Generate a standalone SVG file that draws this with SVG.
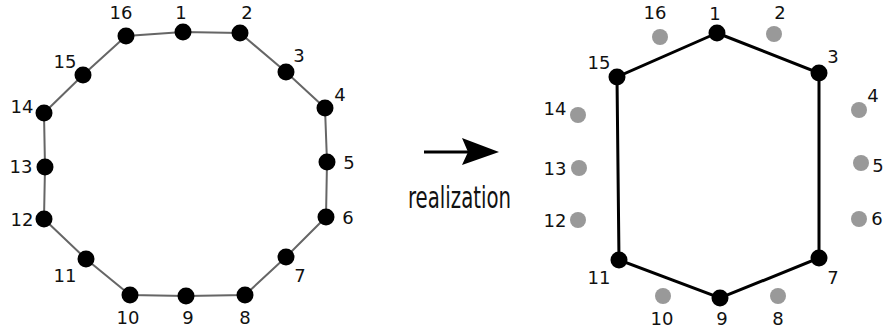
<svg xmlns="http://www.w3.org/2000/svg" width="885" height="331" viewBox="0 0 885 331">
<style>
.lab{font-family:"DejaVu Sans","Liberation Sans",sans-serif;font-size:18px;fill:#111;text-anchor:middle}
.n{fill:#000}
.g{fill:#999}
.e1{stroke:#666;stroke-width:2;fill:none}
.e2{stroke:#000;stroke-width:3;fill:none}
</style>
<rect width="885" height="331" fill="#fff"/>
<g id="connectors">
<polygon class="e1" points="183,32 240,33 286,72 325,108 327,162 326,217 286,257 245,295 186,296 130,295 86,259 44,219 45,167 44,113 83,75 126,36"/>
<polygon class="e2" points="717,33 819,73 819,258 720,298 619,260 617,77"/>
<line x1="424" y1="152" x2="468" y2="152" stroke="#000" stroke-width="3"/>
<polygon points="499,152 462,138 468,152 462,165" fill="#000"/>
</g>
<g id="left">
<g id="L1"><circle class="n" cx="183" cy="32" r="8.5"/><text class="lab" x="181" y="19">1</text></g>
<g id="L2"><circle class="n" cx="240" cy="33" r="8.5"/><text class="lab" x="247" y="19">2</text></g>
<g id="L3"><circle class="n" cx="286" cy="72" r="8.5"/><text class="lab" x="299" y="62">3</text></g>
<g id="L4"><circle class="n" cx="325" cy="108" r="8.5"/><text class="lab" x="340" y="101">4</text></g>
<g id="L5"><circle class="n" cx="327" cy="162" r="8.5"/><text class="lab" x="349" y="169">5</text></g>
<g id="L6"><circle class="n" cx="326" cy="217" r="8.5"/><text class="lab" x="348" y="224">6</text></g>
<g id="L7"><circle class="n" cx="286" cy="257" r="8.5"/><text class="lab" x="300" y="282">7</text></g>
<g id="L8"><circle class="n" cx="245" cy="295" r="8.5"/><text class="lab" x="245" y="324">8</text></g>
<g id="L9"><circle class="n" cx="186" cy="296" r="8.5"/><text class="lab" x="188" y="324">9</text></g>
<g id="L10"><circle class="n" cx="130" cy="295" r="8.5"/><text class="lab" x="128" y="324">10</text></g>
<g id="L11"><circle class="n" cx="86" cy="259" r="8.5"/><text class="lab" x="65" y="282">11</text></g>
<g id="L12"><circle class="n" cx="44" cy="219" r="8.5"/><text class="lab" x="22" y="226">12</text></g>
<g id="L13"><circle class="n" cx="45" cy="167" r="8.5"/><text class="lab" x="21" y="173">13</text></g>
<g id="L14"><circle class="n" cx="44" cy="113" r="8.5"/><text class="lab" x="22" y="113">14</text></g>
<g id="L15"><circle class="n" cx="83" cy="75" r="8.5"/><text class="lab" x="65" y="68">15</text></g>
<g id="L16"><circle class="n" cx="126" cy="36" r="8.5"/><text class="lab" x="121" y="19">16</text></g>
</g>
<g id="arrow-label">
<text x="408" y="208" font-family="'DejaVu Sans Condensed','DejaVu Sans',sans-serif" font-size="30" fill="#111" textLength="103" lengthAdjust="spacingAndGlyphs">realization</text>
</g>
<g id="right">
<g id="R1"><circle class="n" cx="717" cy="33" r="8.5"/><text class="lab" x="715" y="20">1</text></g>
<g id="R2"><circle class="g" cx="774" cy="34" r="8"/><text class="lab" x="780" y="19">2</text></g>
<g id="R3"><circle class="n" cx="819" cy="73" r="8.5"/><text class="lab" x="833" y="63">3</text></g>
<g id="R4"><circle class="g" cx="859" cy="110" r="8"/><text class="lab" x="873" y="102">4</text></g>
<g id="R5"><circle class="g" cx="861" cy="163" r="8"/><text class="lab" x="878" y="172">5</text></g>
<g id="R6"><circle class="g" cx="859" cy="219" r="8"/><text class="lab" x="877" y="225">6</text></g>
<g id="R7"><circle class="n" cx="819" cy="258" r="8.5"/><text class="lab" x="833" y="284">7</text></g>
<g id="R8"><circle class="g" cx="778" cy="296" r="8"/><text class="lab" x="778" y="325">8</text></g>
<g id="R9"><circle class="n" cx="720" cy="298" r="8.5"/><text class="lab" x="722" y="325">9</text></g>
<g id="R10"><circle class="g" cx="663" cy="296" r="8"/><text class="lab" x="662" y="325">10</text></g>
<g id="R11"><circle class="n" cx="619" cy="260" r="8.5"/><text class="lab" x="599" y="284">11</text></g>
<g id="R12"><circle class="g" cx="578" cy="220" r="8"/><text class="lab" x="555" y="227">12</text></g>
<g id="R13"><circle class="g" cx="579" cy="168" r="8"/><text class="lab" x="555" y="175">13</text></g>
<g id="R14"><circle class="g" cx="578" cy="115" r="8"/><text class="lab" x="555" y="115">14</text></g>
<g id="R15"><circle class="n" cx="617" cy="77" r="8.5"/><text class="lab" x="599" y="69">15</text></g>
<g id="R16"><circle class="g" cx="660" cy="37" r="8"/><text class="lab" x="655" y="19">16</text></g>
</g>
</svg>
